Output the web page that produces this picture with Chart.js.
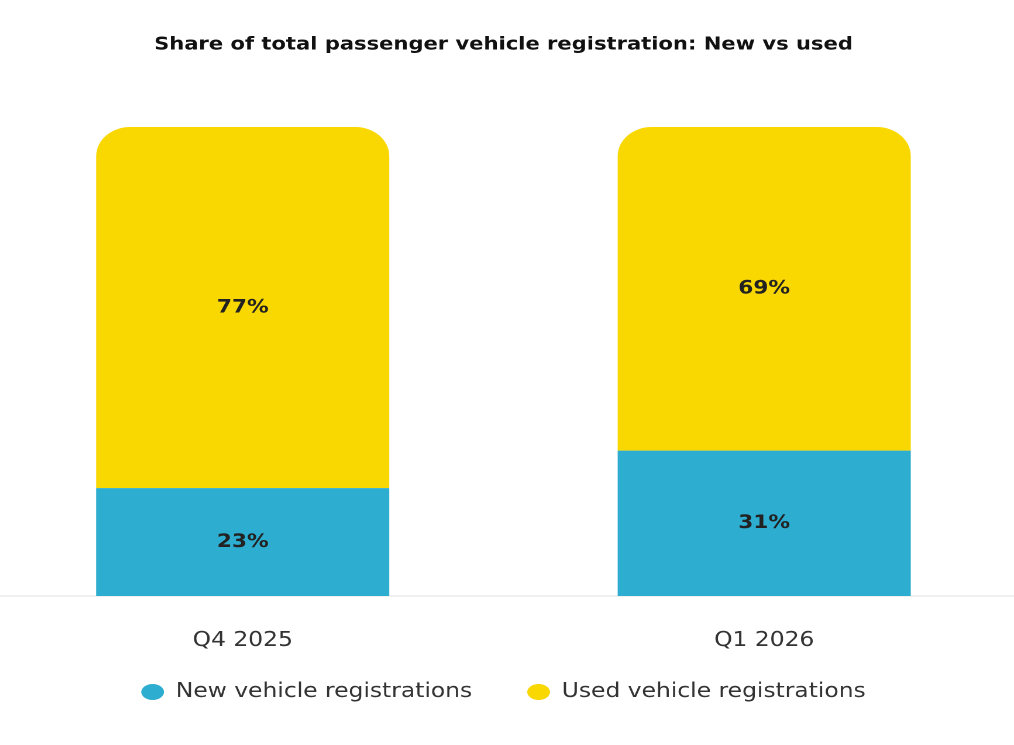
<!DOCTYPE html>
<html>
<head>
<meta charset="utf-8">
<script src="https://cdn.jsdelivr.net/npm/chart.js@4.4.1/dist/chart.umd.min.js"></script>
<style>
  html, body { margin: 0; padding: 0; background: #ffffff; overflow: hidden; width: 1014px; height: 745px; }
  #wrap { position: absolute; left: -18px; top: 0; width: 891.45px; height: 712px;
          transform: scaleX(1.17); transform-origin: 0 0; }
</style>
</head>
<body>
<div id="wrap"><canvas id="c"></canvas></div>
<script>
const categories = ['Q4 2025', 'Q1 2026'];
const newShare = [23, 31];
const usedShare = [77, 69];
const seriesNames = ['New vehicle registrations', 'Used vehicle registrations'];
const titleText = 'Share of total passenger vehicle registration: New vs used';

const FONT = "'DejaVu Sans', sans-serif";

const valueLabels = {
  id: 'valueLabels',
  afterDatasetsDraw(chart) {
    const ctx = chart.ctx;
    ctx.save();
    ctx.font = 'bold 18.5px ' + FONT;
    ctx.fillStyle = '#222222';
    ctx.textAlign = 'center';
    ctx.textBaseline = 'middle';
    chart.data.datasets.forEach((ds, di) => {
      const meta = chart.getDatasetMeta(di);
      meta.data.forEach((bar, i) => {
        const v = ds.data[i];
        ctx.fillText(v + '%', bar.x, (bar.y + bar.base) / 2);
      });
    });
    ctx.restore();
  }
};

new Chart(document.getElementById('c'), {
  type: 'bar',
  data: {
    labels: categories,
    datasets: [
      {
        label: seriesNames[0],
        data: newShare,
        backgroundColor: '#2DADCF',
        borderWidth: 0,
        borderRadius: 0
      },
      {
        label: seriesNames[1],
        data: usedShare,
        backgroundColor: '#F9D700',
        borderWidth: 0,
        borderRadius: { topLeft: 29, topRight: 29, bottomLeft: 0, bottomRight: 0 },
        borderSkipped: false
      }
    ]
  },
  options: {
    responsive: true,
    maintainAspectRatio: false,
    animation: false,
    devicePixelRatio: 2,
    layout: { padding: 0 },
    categoryPercentage: 1,
    barPercentage: 0.562,
    scales: {
      x: {
        stacked: true,
        grid: { display: false, drawTicks: false },
        border: { display: true, color: '#f0f0f0', width: 2 },
        ticks: { color: '#333333', font: { family: FONT, size: 20 }, padding: 33 },
        afterFit(scale) {
          scale.height = 39;
          scale._computeLabelArea = () => undefined;
        }
      },
      y: {
        stacked: true,
        display: false,
        min: 0,
        max: 100
      }
    },
    plugins: {
      title: {
        display: true,
        text: titleText,
        color: '#111111',
        font: { family: FONT, size: 18, weight: 'bold' },
        padding: { top: 34, bottom: 71.4 }
      },
      legend: {
        display: true,
        position: 'bottom',
        labels: {
          usePointStyle: true,
          pointStyle: 'circle',
          boxHeight: 11.3,
          pointStyleWidth: 19.5,
          padding: 47,
          color: '#333333',
          font: { family: FONT, size: 20 }
        }
      },
      tooltip: { enabled: false }
    }
  },
  plugins: [valueLabels]
});
</script>
</body>
</html>
